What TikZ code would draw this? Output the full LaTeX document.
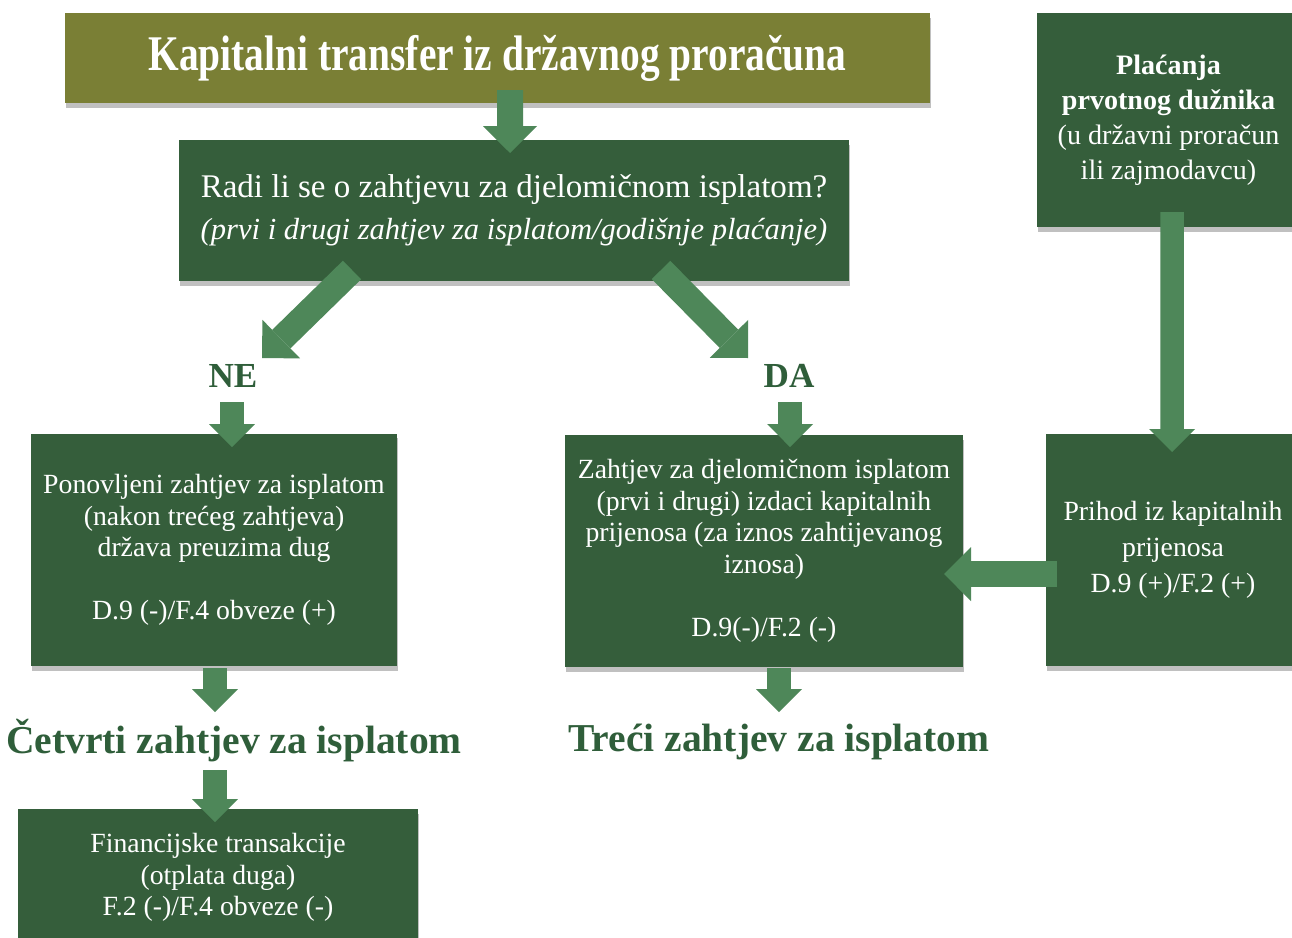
\documentclass[tikz,border=0pt]{standalone}
\usepackage{fontspec}
\setmainfont{Liberation Serif}
\newfontfamily\titlefont[FakeStretch=0.79]{Liberation Serif}
\usetikzlibrary{arrows.meta,calc,shadows}

\definecolor{boxgreen}{RGB}{53,94,59}
\definecolor{titleolive}{RGB}{122,127,53}
\definecolor{arrowgreen}{RGB}{78,135,89}
\definecolor{labelgreen}{RGB}{47,94,58}

\tikzset{
  box/.style={fill=boxgreen, text=white, align=center, inner sep=0pt,
    font=\fontsize{15.8}{18}\selectfont,
    drop shadow={shadow xshift=0.6pt, shadow yshift=-2.6pt, opacity=0.35, fill=black!70}},
  answer/.style={text=labelgreen, font=\bfseries\fontsize{20}{24}\selectfont},
  nextstep/.style={text=labelgreen, font=\bfseries\fontsize{22.5}{26}\selectfont},
  bigarrow/.style={draw=arrowgreen, line width=0.52cm,
    -{Triangle[width=1.08cm,length=0.54cm,line width=0pt]}},
  smallarrow/.style={draw=arrowgreen, line width=0.47cm,
    -{Triangle[width=0.92cm,length=0.46cm,line width=0pt]}},
}

\begin{document}
\begin{tikzpicture}[x=0.02cm, y=-0.02cm]
    \clip (0,0) rectangle (1292,937);
    \fill[white] (0,0) rectangle (1292,937);

    % boxes
    \node[box, fill=titleolive, minimum width=17.3cm, minimum height=1.8cm,
      font=\titlefont\bfseries\fontsize{28.4}{32}\selectfont] (title) at (497.5,58)
      {Kapitalni transfer iz državnog proračuna};
    \node[box, minimum width=13.4cm, minimum height=2.82cm,
      font=\fontsize{18.8}{23.8}\selectfont] (pitanje) at (514,210.5)
      {Radi li se o zahtjevu za djelomičnom isplatom?\\
       {\fontsize{17.4}{23.8}\selectfont\itshape (prvi i drugi zahtjev za isplatom/godišnje plaćanje)}};
    \node[box, minimum width=5.26cm, minimum height=4.28cm,
      font=\fontsize{16}{20}\selectfont] (duznik) at (1168.5,120)
      {\textbf{Plaćanja}\\ \textbf{prvotnog dužnika}\\ (u državni proračun\\ ili zajmodavcu)};
    \node[box, minimum width=7.32cm, minimum height=4.66cm] (ponov) at (214,550)
      {Ponovljeni zahtjev za isplatom\\ (nakon trećeg zahtjeva)\\ država preuzima dug\\[18pt]
       D.9 (-)/F.4 obveze (+)};
    \node[box, minimum width=7.96cm, minimum height=4.64cm] (djelom) at (764,551)
      {Zahtjev za djelomičnom isplatom\\ (prvi i drugi) izdaci kapitalnih\\
       prijenosa (za iznos zahtijevanog\\ iznosa)\\[18pt] D.9(-)/F.2 (-)};
    \node[box, minimum width=5.08cm, minimum height=4.64cm,
      font=\fontsize{15.8}{20.4}\selectfont] (prihod) at (1173,550)
      {Prihod iz kapitalnih\\ prijenosa\\ D.9 (+)/F.2 (+)};
    \node[box, minimum width=8cm, minimum height=2.74cm] (fin) at (218,877.5)
      {Financijske transakcije\\ (otplata duga)\\ F.2 (-)/F.4 obveze (-)};

    % labels
    \node[answer] (ne) at (233,376) {NE};
    \node[answer] (da) at (789,376) {DA};
    \node[nextstep] (cetvrti) at (234,741) {Četvrti zahtjev za isplatom};
    \node[nextstep] (treci) at (779,742) {Treći zahtjev za isplatom};

    % arrows
    \draw[bigarrow] ($(title)+(12.5,32)$) -- ($(pitanje)+(-4,-57.5)$);
    \draw[bigarrow] ($(pitanje)+(-162,59.5)$) -- ($(ne)+(29,-18)$);
    \draw[bigarrow] ($(pitanje)+(147,59.5)$) -- ($(da)+(-41,-18)$);
    \draw[smallarrow] ($(ne)+(-1,26)$) -- ($(ponov)+(18,-103)$);
    \draw[smallarrow] ($(da)+(1,26)$) -- ($(djelom)+(26,-104)$);
    \draw[smallarrow] ($(ponov)+(1,118)$) -- ($(cetvrti)+(-19,-29)$);
    \draw[smallarrow] ($(djelom)+(15,117)$) -- ($(treci)+(0,-30)$);
    \draw[smallarrow] ($(cetvrti)+(-19,29)$) -- ($(fin)+(-3,-55.5)$);
    \draw[smallarrow] ($(duznik)+(3.5,92)$) -- ($(prihod)+(-1,-98)$);
    \draw[bigarrow] ($(prihod)+(-116,24)$) -- ($(djelom)+(180,23)$);
\end{tikzpicture}
\end{document}
